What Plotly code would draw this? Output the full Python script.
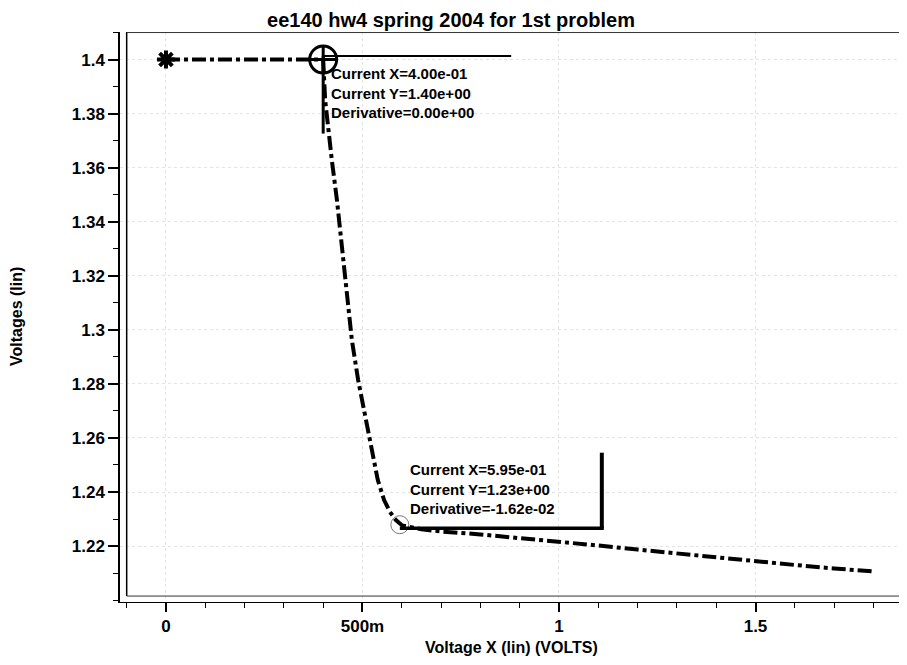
import plotly.graph_objects as go

# ---------------- data ----------------
sweep_x = [0.0, 0.1, 0.2, 0.3, 0.4, 0.405, 0.415, 0.422, 0.435, 0.448, 0.461,
           0.473, 0.489, 0.506, 0.524, 0.539, 0.555, 0.570, 0.585, 0.601,
           0.65, 0.7, 0.8, 0.9, 1.0, 1.1, 1.2, 1.3, 1.4, 1.5, 1.6, 1.7, 1.8]
vout = [1.4, 1.4, 1.4, 1.4, 1.4, 1.385, 1.3702, 1.3628, 1.348, 1.3295, 1.3121,
        1.2962, 1.2814, 1.2692, 1.2566, 1.2444, 1.237, 1.2326, 1.2296, 1.2276,
        1.2262, 1.2254, 1.2243, 1.2230, 1.2217, 1.2202, 1.2187, 1.2172, 1.2158,
        1.2143, 1.2130, 1.2117, 1.2106]

start_x = [0.0]
start_y = [1.4]

cursor_x = [0.4, 0.595]
cursor_y = [1.4, 1.2279]
cursor_text = [
    "Current X=4.00e-01<br>Current Y=1.40e+00<br>Derivative=0.00e+00",
    "Current X=5.95e-01<br>Current Y=1.23e+00<br>Derivative=-1.62e-02",
]

x_tickvals = [0, 0.5, 1, 1.5]
x_ticktext = ["0", "500m", "1", "1.5"]
y_tickvals = [1.22, 1.24, 1.26, 1.28, 1.30, 1.32, 1.34, 1.36, 1.38, 1.40]
y_ticktext = ["1.22", "1.24", "1.26", "1.28", "1.3", "1.32", "1.34", "1.36", "1.38", "1.4"]

title_text = "ee140 hw4 spring 2004 for 1st problem"
x_title = "Voltage X (lin) (VOLTS)"
y_title = "Voltages (lin)"

# ---------------- figure ----------------
FONT = "Liberation Sans, Arial, Helvetica, sans-serif"
# the page body adds an 8px offset, so the figure is 8px smaller than the window
W, H = 899, 657
ML, MR, MT, MB = 112, 0, 24, 63
X_RANGE = [-0.117, 1.8855]
Y_RANGE = [1.1993, 1.4102]

fig = go.Figure()

fig.add_trace(go.Scatter(
    x=sweep_x, y=vout, mode="lines",
    line=dict(color="black", width=4, dash="14px,4px,4px,4px"),
    hoverinfo="skip", showlegend=False))

# start marker (asterisk blob)
fig.add_trace(go.Scatter(
    x=start_x, y=start_y, mode="markers",
    marker=dict(symbol="asterisk-open", size=15, color="black",
                line=dict(color="black", width=4)),
    showlegend=False, hoverinfo="skip"))
fig.add_trace(go.Scatter(
    x=start_x, y=start_y, mode="markers",
    marker=dict(symbol="circle", size=10, color="black"),
    showlegend=False, hoverinfo="skip"))

# cursor 1 (bold circle with crosshair)
fig.add_trace(go.Scatter(
    x=cursor_x[:1], y=cursor_y[:1], mode="markers",
    marker=dict(symbol="circle-cross-open", size=27, color="black",
                line=dict(color="black", width=3)),
    showlegend=False, hoverinfo="skip"))
# cursor 2 (faint circle)
fig.add_trace(go.Scatter(
    x=cursor_x[1:], y=cursor_y[1:], mode="markers",
    marker=dict(symbol="circle-open", size=18, color="#777777",
                line=dict(color="#777777", width=1)),
    showlegend=False, hoverinfo="skip"))

shapes = []
# plot frame (left, top, bottom borders)
shapes.append(dict(type="line", xref="x", yref="y", x0=-0.1, x1=-0.1, y0=1.2015, y1=1.4102,
                   line=dict(color="black", width=1.5)))
shapes.append(dict(type="line", xref="x", yref="y", x0=-0.1, x1=1.8855, y0=1.4100, y1=1.4100,
                   line=dict(color="#333333", width=1)))
shapes.append(dict(type="line", xref="x", yref="y", x0=-0.1, x1=1.8855, y0=1.2015, y1=1.2015,
                   line=dict(color="#333333", width=1)))

# cursor readout boxes (pixel offsets from the cursor point)
cx1, cy1 = cursor_x[0], cursor_y[0]
shapes.append(dict(type="line", xref="x", yref="y", xsizemode="pixel", ysizemode="pixel",
                   xanchor=cx1, yanchor=cy1, x0=0, x1=188, y0=3.5, y1=3.5,
                   line=dict(color="black", width=2)))
shapes.append(dict(type="line", xref="x", yref="y", xsizemode="pixel", ysizemode="pixel",
                   xanchor=cx1, yanchor=cy1, x0=0, x1=0, y0=3.5, y1=-74,
                   line=dict(color="black", width=3)))
cx2, cy2 = cursor_x[1], cursor_y[1]
shapes.append(dict(type="line", xref="x", yref="y", xsizemode="pixel", ysizemode="pixel",
                   xanchor=cx2, yanchor=cy2, x0=0, x1=204, y0=-3.5, y1=-3.5,
                   line=dict(color="black", width=3.5)))
shapes.append(dict(type="line", xref="x", yref="y", xsizemode="pixel", ysizemode="pixel",
                   xanchor=cx2, yanchor=cy2, x0=202, x1=202, y0=-3.5, y1=72,
                   line=dict(color="black", width=4)))

# small scanned frame fragment in the top-left corner
shapes.append(dict(type="rect", xref="paper", yref="paper",
                   x0=-0.17, x1=-0.1487, y0=0.947, y1=1.0386,
                   line=dict(color="black", width=1)))

annotations = [
    dict(x=cx1, y=cy1, xref="x", yref="y", text=cursor_text[0], showarrow=False,
         xanchor="left", yanchor="top", align="left", xshift=6, yshift=-3,
         font=dict(family=FONT, size=15, color="black", weight="bold")),
    dict(x=cx2, y=cy2, xref="x", yref="y", text=cursor_text[1], showarrow=False,
         xanchor="left", yanchor="bottom", align="left", xshift=8, yshift=6,
         font=dict(family=FONT, size=15, color="black", weight="bold")),
    dict(x=0.498, y=-0.0807, xref="paper", yref="paper", text=x_title, showarrow=False,
         xanchor="center", yanchor="middle",
         font=dict(family=FONT, size=16, color="black", weight="bold")),
    dict(x=-0.1309, y=0.5018, xref="paper", yref="paper", text=y_title, showarrow=False,
         textangle=-90, xanchor="center", yanchor="middle",
         font=dict(family=FONT, size=16, color="black", weight="bold")),
]

fig.update_layout(
    width=W, height=H,
    margin=dict(l=ML, r=MR, t=MT, b=MB, pad=0, autoexpand=False),
    paper_bgcolor="white", plot_bgcolor="white",
    font=dict(family=FONT, color="black"),
    title=dict(text=title_text, x=0.4928, xref="container", xanchor="center",
               y=0.9817, yref="container", yanchor="middle", automargin=False,
               font=dict(family=FONT, size=20, color="black", weight="bold")),
    shapes=shapes, annotations=annotations,
    showlegend=False,
)

fig.update_xaxes(
    range=X_RANGE, automargin=False,
    showgrid=True, gridcolor="#e3e3e3", griddash="dot", gridwidth=1,
    zeroline=False, showline=True, linecolor="black", linewidth=1,
    tickmode="array", tickvals=x_tickvals, ticktext=x_ticktext,
    ticks="outside", ticklen=9, tickwidth=1.5, tickcolor="black",
    ticklabelstandoff=0,
    tickfont=dict(family=FONT, size=17, color="black", weight="bold"),
    minor=dict(tickmode="linear", tick0=0, dtick=0.1, ticks="outside", ticklen=5,
               tickwidth=1, tickcolor="black", showgrid=False),
)
fig.update_yaxes(
    range=Y_RANGE, automargin=False,
    showgrid=True, gridcolor="#e3e3e3", griddash="dot", gridwidth=1,
    zeroline=False, showline=True, linecolor="black", linewidth=1.5,
    tickmode="array", tickvals=y_tickvals, ticktext=y_ticktext,
    ticks="outside", ticklen=10, tickwidth=1.5, tickcolor="black",
    ticklabelstandoff=0,
    tickfont=dict(family=FONT, size=17, color="black", weight="bold"),
    minor=dict(tickmode="linear", tick0=1.2, dtick=0.01, ticks="outside", ticklen=5,
               tickwidth=1, tickcolor="black", showgrid=False),
)

fig.write_html("out.html")
